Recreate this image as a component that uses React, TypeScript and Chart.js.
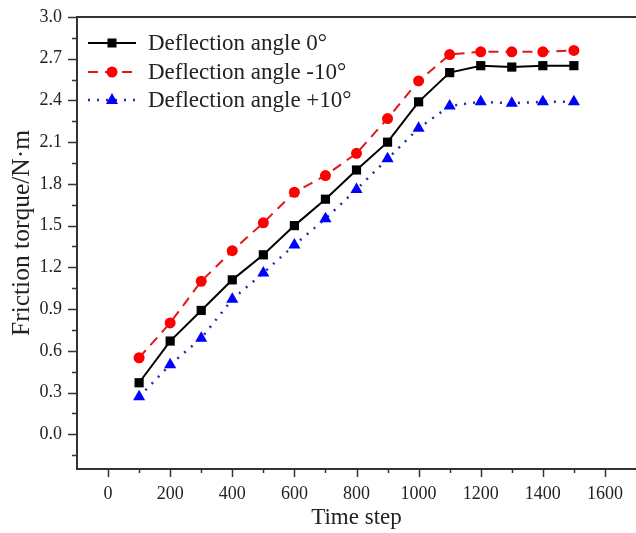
import { useEffect, useRef } from 'react';
import { Chart, registerables } from 'chart.js';

Chart.register(...registerables);

const timeSteps = [100, 200, 300, 400, 500, 600, 700, 800, 900, 1000, 1100, 1200, 1300, 1400, 1500];
const angle0 = [0.37, 0.67, 0.89, 1.11, 1.29, 1.50, 1.69, 1.90, 2.10, 2.39, 2.60, 2.65, 2.64, 2.65, 2.65];
const angleMinus10 = [0.55, 0.80, 1.10, 1.32, 1.52, 1.74, 1.86, 2.02, 2.27, 2.54, 2.73, 2.75, 2.75, 2.75, 2.76];
const anglePlus10 = [0.27, 0.50, 0.69, 0.97, 1.16, 1.36, 1.55, 1.76, 1.98, 2.20, 2.36, 2.39, 2.38, 2.39, 2.39];
const seriesLabels = ['Deflection angle 0°', 'Deflection angle -10°', 'Deflection angle +10°'];

const xMajorTicks = [0, 200, 400, 600, 800, 1000, 1200, 1400, 1600];
const xMinorTicks = [100, 300, 500, 700, 900, 1100, 1300, 1500];
const yMajorTicks = [0, 0.3, 0.6, 0.9, 1.2, 1.5, 1.8, 2.1, 2.4, 2.7, 3.0];
const yMinorTicks = [-0.15, 0.15, 0.45, 0.75, 1.05, 1.35, 1.65, 1.95, 2.25, 2.55, 2.85];

const FONT = "'Liberation Serif', 'DejaVu Serif', serif";
const AXIS_COLOR = '#333333';
const TEXT_COLOR = '#222222';

const zeroPad = (s: any) => {
  s.paddingTop = 0;
  s.paddingBottom = 0;
  s.paddingLeft = 0;
  s.paddingRight = 0;
};

const decorPlugin = {
  id: 'decor',
  afterDraw(chart: any) {
    const ctx = chart.ctx as CanvasRenderingContext2D;
    const { left, top, bottom } = chart.chartArea;
    const xs = chart.scales.x;
    const ys = chart.scales.y;
    ctx.save();
    ctx.strokeStyle = AXIS_COLOR;
    ctx.lineWidth = 2;
    ctx.beginPath();
    ctx.moveTo(left - 1, top);
    ctx.lineTo(chart.width, top);
    ctx.stroke();
    ctx.lineWidth = 1.5;
    const drawX = (v: number, len: number) => {
      const px = Math.round(xs.getPixelForValue(v)) + 0.5;
      ctx.beginPath();
      ctx.moveTo(px, bottom);
      ctx.lineTo(px, bottom + len);
      ctx.stroke();
    };
    xMajorTicks.forEach((v) => drawX(v, 8));
    xMinorTicks.forEach((v) => drawX(v, 4));
    const drawY = (v: number, len: number) => {
      const py = Math.round(ys.getPixelForValue(v)) + 0.5;
      ctx.beginPath();
      ctx.moveTo(left, py);
      ctx.lineTo(left - len, py);
      ctx.stroke();
    };
    yMajorTicks.forEach((v) => drawY(v, 9));
    yMinorTicks.forEach((v) => drawY(v, 5));

    ctx.save();
    ctx.fillStyle = TEXT_COLOR;
    ctx.font = `25.5px ${FONT}`;
    ctx.textAlign = 'center';
    ctx.textBaseline = 'middle';
    ctx.translate(22, 233);
    ctx.rotate(-Math.PI / 2);
    ctx.fillText('Friction torque/N·m', 0, 0);
    ctx.restore();

    const rows = [43, 72, 100];
    chart.data.datasets.forEach((ds: any, i: number) => {
      const y = rows[i];
      ctx.save();
      ctx.strokeStyle = ds.borderColor;
      ctx.lineWidth = ds.borderWidth;
      ctx.setLineDash(ds.borderDash || []);
      ctx.beginPath();
      ctx.moveTo(88, y);
      ctx.lineTo(136, y);
      ctx.stroke();
      ctx.restore();
      ctx.save();
      ctx.fillStyle = ds.pointBackgroundColor;
      const cx = 112;
      if (ds.pointStyle === 'rect') {
        ctx.fillRect(cx - 4.5, y - 4.5, 9, 9);
      } else if (ds.pointStyle === 'circle') {
        ctx.beginPath();
        ctx.arc(cx, y, 5.5, 0, Math.PI * 2);
        ctx.fill();
      } else {
        ctx.beginPath();
        ctx.moveTo(cx, y - 7);
        ctx.lineTo(cx + 6, y + 4);
        ctx.lineTo(cx - 6, y + 4);
        ctx.closePath();
        ctx.fill();
      }
      ctx.restore();
      ctx.fillStyle = TEXT_COLOR;
      ctx.font = `23px ${FONT}`;
      ctx.textBaseline = 'middle';
      ctx.textAlign = 'left';
      ctx.fillText(seriesLabels[i], 148, y + 1);
    });
    ctx.restore();
  },
};

export default function App() {
  const ref = useRef<HTMLCanvasElement | null>(null);
  useEffect(() => {
    document.body.style.margin = '0';
    const canvas = ref.current;
    if (!canvas) return;
    const chart = new Chart(canvas, {
      type: 'line',
      data: {
        datasets: [
          {
            label: seriesLabels[0],
            data: timeSteps.map((x, i) => ({ x, y: angle0[i] })),
            borderColor: '#000000',
            backgroundColor: '#000000',
            pointBackgroundColor: '#000000',
            pointBorderColor: '#000000',
            borderWidth: 2,
            pointStyle: 'rect',
            pointRadius: 6.5,
            pointBorderWidth: 0,
          },
          {
            label: seriesLabels[1],
            data: timeSteps.map((x, i) => ({ x, y: angleMinus10[i] })),
            borderColor: '#e01818',
            backgroundColor: '#ff0000',
            pointBackgroundColor: '#ff0000',
            pointBorderColor: '#ff0000',
            borderWidth: 2,
            borderDash: [10, 7],
            pointStyle: 'circle',
            pointRadius: 5.5,
            pointBorderWidth: 0,
          },
          {
            label: seriesLabels[2],
            data: timeSteps.map((x, i) => ({ x, y: anglePlus10[i] })),
            borderColor: '#2a2aa0',
            backgroundColor: '#0000ff',
            pointBackgroundColor: '#0000ff',
            pointBorderColor: '#0000ff',
            borderWidth: 2.5,
            borderDash: [2, 7],
            pointStyle: 'triangle',
            pointRadius: 7,
            pointBorderWidth: 0,
          },
        ],
      },
      options: {
        responsive: false,
        animation: false,
        events: [],
        layout: { autoPadding: false, padding: { top: 17, right: 0, left: 0, bottom: 0 } },
        plugins: { legend: { display: false }, tooltip: { enabled: false } },
        scales: {
          x: {
            type: 'linear',
            min: -100,
            max: 1700,
            afterBuildTicks: (s: any) => {
              s.ticks = xMajorTicks.map((value) => ({ value }));
            },
            afterFit: (s: any) => {
              s.height = 64;
              zeroPad(s);
            },
            grid: { display: false, drawTicks: false },
            border: { display: true, color: AXIS_COLOR, width: 2 },
            ticks: {
              padding: 14,
              color: TEXT_COLOR,
              font: { family: FONT, size: 18 },
              maxRotation: 0,
              autoSkip: false,
              callback: (v: any) => String(v),
            },
            title: {
              display: true,
              text: 'Time step',
              color: TEXT_COLOR,
              font: { family: FONT, size: 23 },
              padding: { top: 0, bottom: 1 },
            },
          },
          y: {
            type: 'linear',
            min: -0.25,
            max: 3.0,
            afterBuildTicks: (s: any) => {
              s.ticks = yMajorTicks.map((value) => ({ value }));
            },
            afterFit: (s: any) => {
              s.width = 77;
              zeroPad(s);
            },
            grid: { display: false, drawTicks: false },
            border: { display: true, color: AXIS_COLOR, width: 2 },
            ticks: {
              padding: 15,
              color: TEXT_COLOR,
              font: { family: FONT, size: 18 },
              autoSkip: false,
              callback: (v: any) => Number(v).toFixed(1),
            },
          },
        },
      },
      plugins: [decorPlugin],
    } as any);
    return () => chart.destroy();
  }, []);
  return <canvas ref={ref} width={636} height={533} style={{ display: 'block' }} />;
}
